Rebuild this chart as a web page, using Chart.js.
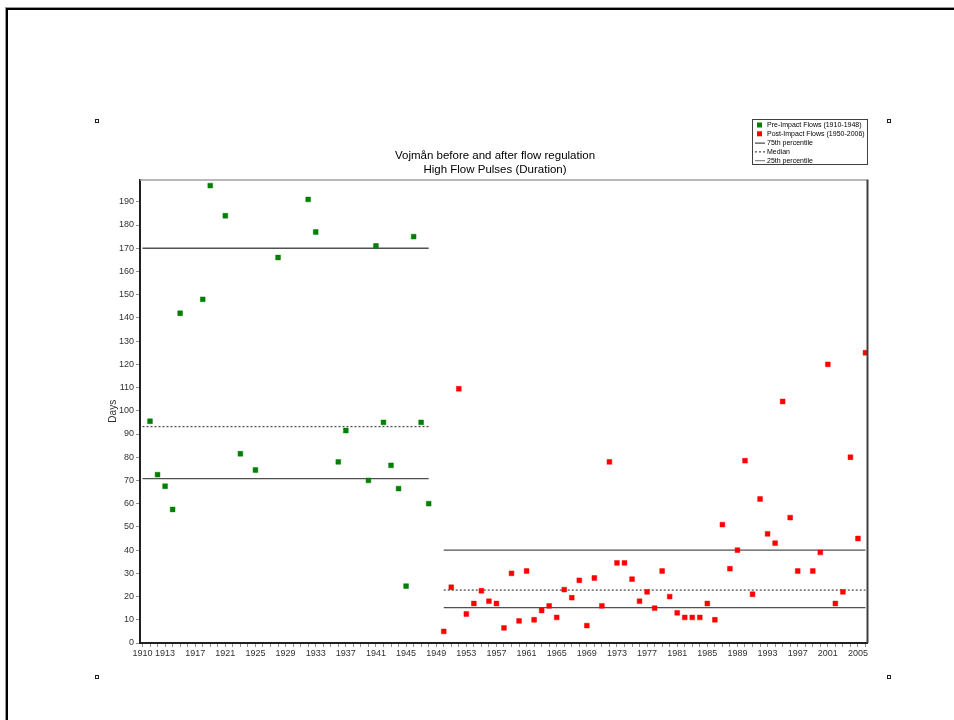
<!DOCTYPE html>
<html>
<head>
<meta charset="utf-8">
<title>Vojmån – High Flow Pulses (Duration)</title>
<script src="https://cdn.jsdelivr.net/npm/chart.js@4/dist/chart.umd.min.js"></script>
<style>
  html, body { margin: 0; padding: 0; background: #fff; overflow: hidden; }
  #frame { position: absolute; left: 6px; top: 8px; width: 980px; height: 740px;
           border-left: 2px solid #000; border-top: 2px solid #000; box-shadow: -1px -1px 0 #999; }
  #wrap { position: absolute; left: 0; top: 0; width: 954px; height: 720px; }
</style>
</head>
<body>
<div id="frame"></div>
<div id="wrap"><canvas id="chart" width="954" height="720"></canvas></div>
<script>
// Pre-regulation high flow pulse durations (days)
const preYears = [1911, 1912, 1913, 1914, 1915, 1918, 1919, 1921, 1923, 1925, 1928, 1932,
                  1933, 1936, 1937, 1940, 1941, 1942, 1943, 1944, 1945, 1946, 1947, 1948];
const preDays  = [95.5, 72.5, 67.5, 57.5, 142, 148, 197, 184, 81.5, 74.5, 166, 191,
                  177, 78, 91.5, 70, 171, 95, 76.5, 66.5, 24.5, 175, 95, 60];

// Post-regulation high flow pulse durations (days)
const postYears = [1950, 1951, 1952, 1953, 1954, 1955, 1956, 1957, 1958, 1959,
                   1960, 1961, 1962, 1963, 1964, 1965, 1966, 1967, 1968, 1969,
                   1970, 1971, 1972, 1973, 1974, 1975, 1976, 1977, 1978, 1979,
                   1980, 1981, 1982, 1983, 1984, 1985, 1986, 1987, 1988, 1989,
                   1990, 1991, 1992, 1993, 1994, 1995, 1996, 1997, 1999,
                   2000, 2001, 2002, 2003, 2004, 2005, 2006];
const postDays  = [5, 24, 109.5, 12.5, 17, 22.5, 18, 17, 6.5, 30,
                   9.5, 31, 10, 14, 16, 11, 23, 19.5, 27, 7.5,
                   28, 16, 78, 34.5, 34.5, 27.5, 18, 22, 15, 31,
                   20, 13, 11, 11, 11, 17, 10, 51, 32, 40,
                   78.5, 21, 62, 47, 43, 104, 54, 31, 31,
                   39, 120, 17, 22, 80, 45, 125];

// Percentile levels: 75th, median, 25th
const percentileNames = ['75th percentile', 'Median', '25th percentile'];
const prePercentiles  = [170, 93.2, 70.8];
const postPercentiles = [40, 22.8, 15.2];
const prePeriod  = [1910, 1948];
const postPeriod = [1950, 2006];

// Axis tick labels
const xTickLabels = [1910, 1913, 1917, 1921, 1925, 1929, 1933, 1937, 1941, 1945, 1949,
                     1953, 1957, 1961, 1965, 1969, 1973, 1977, 1981, 1985, 1989, 1993,
                     1997, 2001, 2005];
const yTickValues = [0, 10, 20, 30, 40, 50, 60, 70, 80, 90, 100, 110, 120, 130, 140,
                     150, 160, 170, 180, 190];

const titleLines = ['Vojmån before and after flow regulation', 'High Flow Pulses (Duration)'];
const legendLabels = ['Pre-Impact Flows (1910-1948)', 'Post-Impact Flows (1950-2006)',
                      '75th percentile', 'Median', '25th percentile'];

const GREEN = '#008000';
const RED = '#ff0000';
const LINE = '#505050';

function toPoints(xs, ys) { return xs.map((x, i) => ({ x: x, y: ys[i] })); }
function levelLine(period, value) { return [{ x: period[0], y: value }, { x: period[1], y: value }]; }

const lineStyles = [
  { dash: [] },
  { dash: [2, 2] },
  { dash: [] }
];

const datasets = [
  { type: 'scatter', label: legendLabels[0], data: toPoints(preYears, preDays),
    pointStyle: 'rect', pointRadius: 3.4, pointBorderWidth: 0.8,
    backgroundColor: GREEN, borderColor: 'rgba(0,128,0,0.6)' },
  { type: 'scatter', label: legendLabels[1], data: toPoints(postYears, postDays),
    pointStyle: 'rect', pointRadius: 3.4, pointBorderWidth: 0.8,
    backgroundColor: RED, borderColor: 'rgba(255,0,0,0.6)' }
];
percentileNames.forEach((name, i) => {
  [[prePeriod, prePercentiles[i]], [postPeriod, postPercentiles[i]]].forEach(([period, v]) => {
    datasets.push({
      type: 'line', label: name, data: levelLine(period, v),
      borderColor: LINE, borderWidth: 1.3, borderDash: lineStyles[i].dash,
      pointRadius: 0, fill: false, tension: 0
    });
  });
});

// Frame extras: title, legend box, plot border and selection handles
const decorations = {
  id: 'decorations',
  afterDraw(chart) {
    const ctx = chart.ctx;
    const a = chart.chartArea;
    ctx.save();

    // plot box top and right edges
    ctx.strokeStyle = '#a0a0a0';
    ctx.lineWidth = 1.5;
    ctx.beginPath();
    ctx.moveTo(a.left, a.top + 0.5);
    ctx.lineTo(a.right, a.top + 0.5);
    ctx.stroke();
    ctx.strokeStyle = '#404040';
    ctx.lineWidth = 2;
    ctx.beginPath();
    ctx.moveTo(a.right + 0.5, a.top);
    ctx.lineTo(a.right + 0.5, a.bottom);
    ctx.stroke();

    // title
    ctx.fillStyle = '#000';
    ctx.font = '11.5px "Liberation Sans", Arial, sans-serif';
    ctx.textAlign = 'center';
    ctx.textBaseline = 'middle';
    ctx.fillText(titleLines[0], 495, 156);
    ctx.fillText(titleLines[1], 495, 169.5);

    // legend box
    const lx = 752, ly = 119, lw = 115, lh = 45;
    ctx.fillStyle = '#fff';
    ctx.fillRect(lx, ly, lw, lh);
    ctx.strokeStyle = '#404040';
    ctx.lineWidth = 1;
    ctx.strokeRect(lx + 0.5, ly + 0.5, lw, lh);
    ctx.font = '7px "Liberation Sans", Arial, sans-serif';
    ctx.textAlign = 'left';
    const rowH = 8.8;
    legendLabels.forEach((label, i) => {
      const cy = ly + 6 + i * rowH;
      if (i < 2) {
        ctx.fillStyle = i === 0 ? GREEN : RED;
        ctx.fillRect(lx + 5, cy - 2.5, 5, 5);
      } else {
        const st = lineStyles[i - 2];
        ctx.strokeStyle = i === 4 ? '#707070' : '#202020';
        ctx.lineWidth = 1;
        ctx.setLineDash(st.dash);
        ctx.beginPath();
        ctx.moveTo(lx + 3, cy + 0.5);
        ctx.lineTo(lx + 13, cy + 0.5);
        ctx.stroke();
        ctx.setLineDash([]);
      }
      ctx.fillStyle = '#000';
      ctx.fillText(label, lx + 15, cy + 0.5);
    });

    // selection handles
    ctx.strokeStyle = '#202020';
    ctx.fillStyle = '#fff';
    ctx.lineWidth = 1;
    [[97, 121], [889, 121], [97, 677], [889, 677]].forEach(([hx, hy]) => {
      ctx.fillRect(hx - 2, hy - 2, 4, 4);
      ctx.strokeRect(hx - 1.5, hy - 1.5, 3, 3);
    });
    ctx.restore();
  }
};

new Chart(document.getElementById('chart'), {
  data: { datasets: datasets },
  options: {
    responsive: false,
    animation: false,
    events: [],
    layout: { padding: { left: 100, right: 87, top: 179.5, bottom: 57 } },
    plugins: {
      legend: { display: false },
      title: { display: false },
      tooltip: { enabled: false }
    },
    scales: {
      x: {
        type: 'linear',
        min: 1909.67,
        max: 2006.2,
        afterFit(scale) { scale.height = 20; },
        afterBuildTicks(scale) {
          const t = [];
          for (let y = 1910; y <= 2006; y++) t.push({ value: y });
          scale.ticks = t;
        },
        ticks: {
          autoSkip: false,
          maxRotation: 0,
          minRotation: 0,
          padding: 1,
          color: '#303030',
          font: { family: '"Liberation Sans", Arial, sans-serif', size: 9 },
          callback: (v) => xTickLabels.includes(v) ? String(v) : ''
        },
        grid: { display: true, drawOnChartArea: false, tickLength: 4, color: '#909090', lineWidth: 1 },
        border: { display: true, color: '#202020', width: 2 }
      },
      y: {
        type: 'linear',
        min: 0,
        max: 199.6,
        afterFit(scale) { scale.width = 40; },
        afterBuildTicks(scale) { scale.ticks = yTickValues.map(v => ({ value: v })); },
        title: {
          display: true, text: 'Days', color: '#303030', padding: { top: 7, bottom: 0 },
          font: { family: '"Liberation Sans", Arial, sans-serif', size: 10 }
        },
        ticks: {
          padding: 2,
          color: '#303030',
          font: { family: '"Liberation Sans", Arial, sans-serif', size: 9 },
          callback: (v) => String(v)
        },
        grid: { display: true, drawOnChartArea: false, tickLength: 4, color: '#909090', lineWidth: 1 },
        border: { display: true, color: '#202020', width: 2 }
      }
    }
  },
  plugins: [decorations]
});
</script>
</body>
</html>
